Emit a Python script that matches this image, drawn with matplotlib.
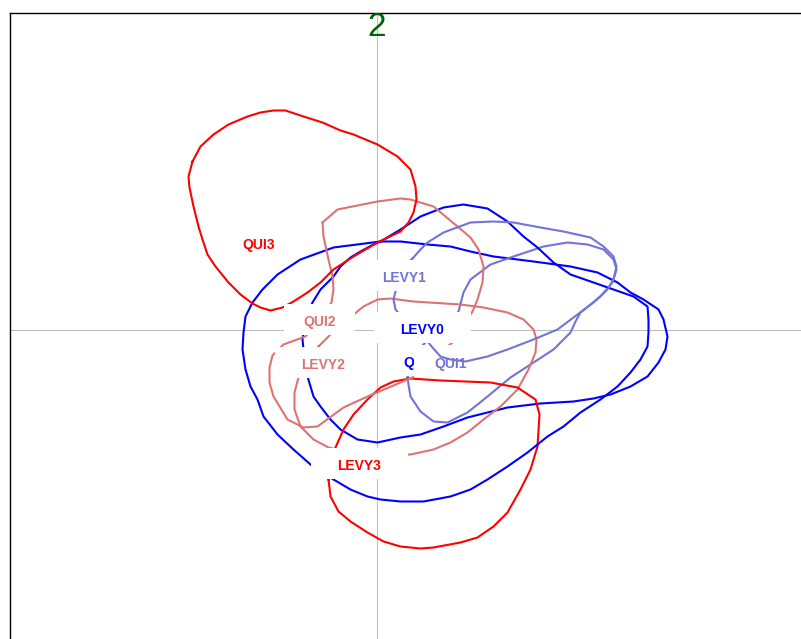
import matplotlib
matplotlib.use("Agg")
import matplotlib.pyplot as plt
from matplotlib.patches import Rectangle

plt.rcParams['font.family'] = ['Liberation Sans', 'DejaVu Sans']

BLUE = '#0000FF'
LIGHT_BLUE = '#7373D9'
LIGHT_RED = '#DD7373'
RED = '#FF0000'

# groups, colours and label anchor points (factorial plane coordinates)
groups = ['LEVY0', 'LEVY1', 'LEVY2', 'LEVY3', 'QUI0', 'QUI1', 'QUI2', 'QUI3']
group_colors = [BLUE, LIGHT_BLUE, LIGHT_RED, RED, BLUE, LIGHT_BLUE, LIGHT_RED, RED]
label_x = [46, 28, -53, -17, 43, 74, -57, -118]
label_y = [1, 53, -34, -135, -32, -33, 9, 86]

# density contour of each group (closed outlines)
levy0_x = [4, 24, 51, 74, 94, 117, 157, 194, 221, 241, 254, 267, 282, 287, 291, 289, 282, 271,
           254, 234, 217, 197, 164, 131, 91, 67, 44, 24, 1, -19, -36, -46, -56, -63, -69, -72,
           -74, -71, -64, -56, -43, -36, -26, -16, -5]
levy0_y = [88, 88, 85, 83, 78, 73, 68, 63, 57, 47, 37, 30, 20, 10, -7, -20, -33, -47,
           -57, -65, -69, -72, -74, -78, -88, -97, -105, -108, -113, -110, -100, -90, -77, -67, -47, -30,
           -10, 10, 27, 40, 53, 63, 72, 78, 84]

qui0_x = [4, 24, 44, 67, 87, 111, 131, 147, 161, 177, 194, 217, 237, 257, 271, 272, 272, 271,
          264, 254, 241, 224, 204, 187, 171, 151, 131, 111, 94, 74, 47, 24, 4, -9, -26, -43,
          -66, -83, -99, -113, -119, -126, -131, -134, -133, -131, -124, -114, -99, -76, -43]
qui0_y = [88, 100, 113, 122, 125, 121, 108, 93, 82, 67, 55, 47, 40, 33, 23, 10, -3, -17,
          -30, -43, -57, -70, -83, -97, -107, -123, -137, -150, -160, -167, -172, -172, -170, -167, -160, -150,
          -135, -120, -105, -87, -70, -57, -40, -20, -3, 13, 27, 40, 55, 70, 82]

levy1_x = [31, 32, 34, 44, 57, 71, 91, 111, 134, 157, 177, 194, 199, 204, 224, 236, 240, 237,
           227, 211, 191, 167, 137, 114, 94, 87, 82, 69, 51, 46, 36]
levy1_y = [-48, -55, -67, -82, -92, -93, -83, -67, -48, -33, -20, -3, 8, 17, 33, 47, 60, 70,
           80, 85, 87, 83, 73, 65, 50, 37, 18, 2, -11, -16, -32]

qui1_x = [36, 44, 51, 67, 94, 117, 137, 164, 187, 214, 227, 237, 240, 237, 231, 217, 197, 181,
          157, 131, 111, 89, 74, 64, 56, 51, 39, 24, 19, 17, 19, 22, 29]
qui1_y = [71, 80, 87, 97, 107, 108, 107, 102, 98, 92, 83, 73, 63, 50, 40, 27, 12, 0,
          -10, -20, -27, -32, -30, -27, -18, -12, 2, 14, 20, 30, 38, 55, 65]

levy2_x = [-58, -46, -29, -13, 1, 14, 37, 84, 107, 131, 147, 157, 160, 159, 152, 141, 124, 107,
           91, 74, 57, 34, 0, -30, -48, -63, -76, -82, -82, -78, -68]
levy2_y = [-17, -5, 10, 23, 30, 31, 28, 25, 22, 17, 10, 0, -10, -23, -40, -60, -77, -90,
           -103, -113, -120, -125, -125, -122, -118, -110, -97, -80, -63, -48, -30]

qui2_x = [-54, -39, 1, 24, 34, 57, 81, 94, 102, 107, 106, 101, 96, 86, 76, 71, 36, 24,
          -9, -33, -59, -73, -89, -103, -107, -107, -104, -93, -71, -58, -45, -43, -44, -48, -53]
qui2_y = [107, 120, 128, 131, 130, 123, 103, 92, 80, 63, 47, 30, 18, 2, -13, -17, -48, -53,
          -67, -78, -97, -98, -90, -67, -53, -38, -26, -15, -7, 10, 27, 40, 53, 70, 93]

levy3_x = [-48, -41, -33, -23, -9, 4, 17, 34, 64, 114, 141, 159, 163, 161, 154, 144, 131, 117,
           101, 84, 57, 44, 24, 7, -9, -26, -38, -46]
levy3_y = [-150, -118, -100, -85, -70, -58, -52, -49, -51, -53, -58, -70, -85, -117, -140, -160, -183, -197,
           -208, -213, -218, -219, -217, -212, -203, -192, -182, -167]

qui3_x = [-184, -176, -163, -148, -129, -116, -103, -91, -73, -54, -36, -23, 1, 21, 34, 39, 40, 37,
          32, 24, 1, -23, -43, -56, -69, -83, -94, -106, -116, -124, -136, -148, -161, -169, -174, -178,
          -183, -187, -188]
qui3_y = [168, 183, 195, 205, 213, 217, 219, 219, 213, 207, 199, 195, 185, 173, 160, 143, 130, 117,
          107, 98, 87, 73, 60, 47, 37, 28, 22, 19, 22, 26, 35, 47, 63, 75, 90, 103,
          123, 142, 153]

contours = {
    'LEVY0': (levy0_x, levy0_y), 'QUI0': (qui0_x, qui0_y),
    'LEVY1': (levy1_x, levy1_y), 'QUI1': (qui1_x, qui1_y),
    'LEVY2': (levy2_x, levy2_y), 'QUI2': (qui2_x, qui2_y),
    'LEVY3': (levy3_x, levy3_y), 'QUI3': (qui3_x, qui3_y),
}

# stacking: labels hide the outlines behind them
contour_z = {g: 2 for g in groups}
contour_z['QUI1'] = 4.5
label_z = {g: 6 for g in groups}
label_z['QUI0'] = 3
label_z['QUI1'] = 4

fig = plt.figure(figsize=(8.01, 6.39), dpi=100)
W, H = 801, 639
ax = fig.add_axes([10 / W, -11 / H, 802 / W, 637.5 / H])
ax.set_xlim(-366.5, 435.5)
ax.set_ylim(-320.5, 317)
ax.set_xticks([])
ax.set_yticks([])
for side in ('left', 'top', 'right', 'bottom'):
    ax.spines[side].set_linewidth(1.0)
    ax.spines[side].set_color('black')

ax.axhline(0, color='#BEBEBE', lw=0.8, zorder=1)
ax.axvline(0, color='#BEBEBE', lw=0.8, zorder=1)

for g, col in zip(groups, group_colors):
    xs, ys = contours[g]
    ax.plot(list(xs) + [xs[0]], list(ys) + [ys[0]], color=col, lw=1.5,
            solid_joinstyle='round', zorder=contour_z[g])

texts = []
for g, col, lx, ly in zip(groups, group_colors, label_x, label_y):
    t = ax.text(lx, ly, g, ha='center', va='center_baseline', fontsize=10,
                fontweight='bold', color=col, zorder=label_z[g] + 0.1)
    texts.append(t)

fig.canvas.draw()
renderer = fig.canvas.get_renderer()
inv = ax.transData.inverted()
for t, g, lx, ly in zip(texts, groups, label_x, label_y):
    bb = t.get_window_extent(renderer)
    (x0, _), (x1, _) = inv.transform([(bb.x0, bb.y0), (bb.x1, bb.y0)])
    w = (x1 - x0) * 2.22
    ax.add_patch(Rectangle((lx - w / 2, ly + 1.5 - 15.5), w, 31, facecolor='white',
                           edgecolor='none', zorder=label_z[g]))

ax.text(0, 293, '2', ha='center', va='baseline', fontsize=24, color='#006400', zorder=7)

fig.savefig('out.png', dpi=100)
